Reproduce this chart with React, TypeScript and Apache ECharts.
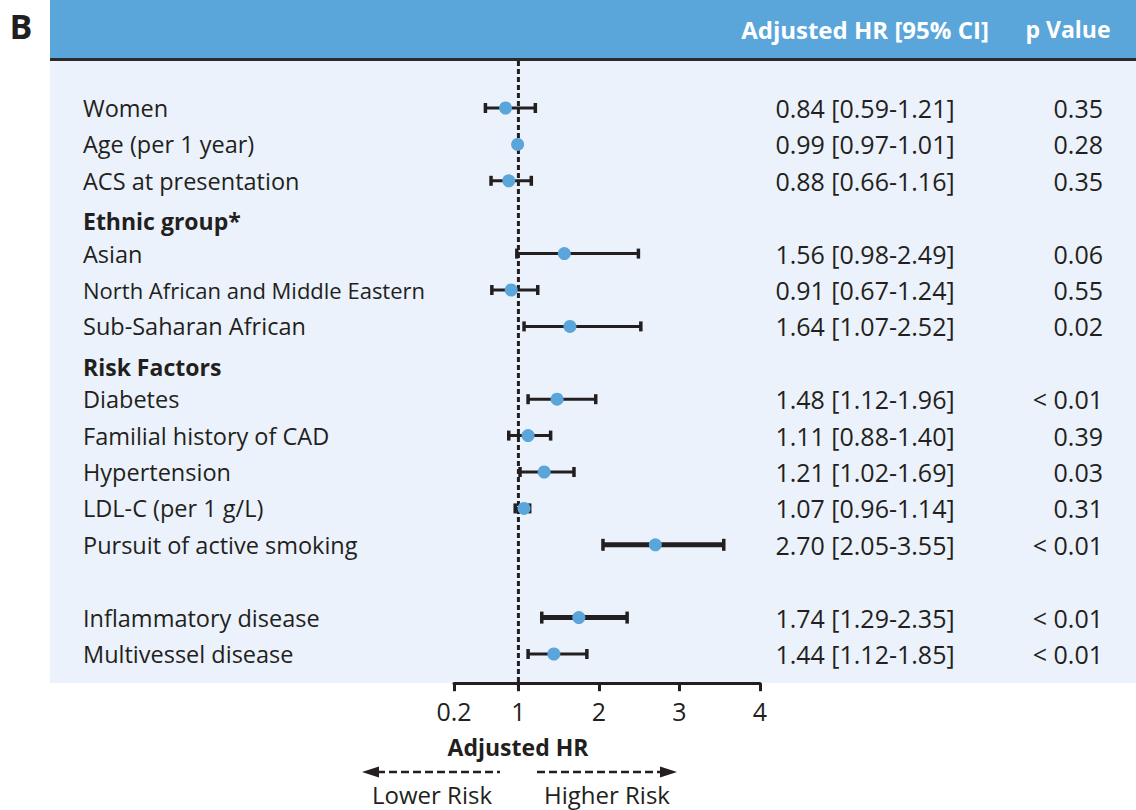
import React, { useEffect, useRef } from 'react';
import * as echarts from 'echarts';

const rowLabels = [
  'Women',
  'Age (per 1 year)',
  'ACS at presentation',
  'Ethnic group*',
  'Asian',
  'North African and Middle Eastern',
  'Sub-Saharan African',
  'Risk Factors',
  'Diabetes',
  'Familial history of CAD',
  'Hypertension',
  'LDL-C (per 1 g/L)',
  'Pursuit of active smoking',
  '',
  'Inflammatory disease',
  'Multivessel disease',
];
const headerRows = ['Ethnic group*', 'Risk Factors'];
const hrPoint = [0.84, 0.99, 0.88, null, 1.57, 0.91, 1.64, null, 1.48, 1.12, 1.32, 1.07, 2.7, null, 1.75, 1.44];
const ciLow = [0.59, 0.97, 0.66, null, 0.98, 0.67, 1.07, null, 1.12, 0.88, 1.02, 0.96, 2.05, null, 1.29, 1.12];
const ciHigh = [1.21, 1.01, 1.16, null, 2.49, 1.24, 2.52, null, 1.96, 1.4, 1.69, 1.14, 3.55, null, 2.35, 1.85];
const hrText = [
  '0.84 [0.59-1.21]',
  '0.99 [0.97-1.01]',
  '0.88 [0.66-1.16]',
  '',
  '1.56 [0.98-2.49]',
  '0.91 [0.67-1.24]',
  '1.64 [1.07-2.52]',
  '',
  '1.48 [1.12-1.96]',
  '1.11 [0.88-1.40]',
  '1.21 [1.02-1.69]',
  '1.07 [0.96-1.14]',
  '2.70 [2.05-3.55]',
  '',
  '1.74 [1.29-2.35]',
  '1.44 [1.12-1.85]',
];
const pText = ['0.35', '0.28', '0.35', '', '0.06', '0.55', '0.02', '', '< 0.01', '0.39', '0.03', '0.31', '< 0.01', '', '< 0.01', '< 0.01'];
const xTicks = [0.2, 1, 2, 3, 4];
const xTickLabels = ['0.2', '1', '2', '3', '4'];
const thickRows = ['Pursuit of active smoking', 'Inflammatory disease'];

const FONT = '"Open Sans", "Noto Sans", sans-serif';
const INK = '#231f20';
const BLUE = '#5aa6da';
const PANEL = '#ebf2fb';

export default function App() {
  const ref = useRef<HTMLDivElement>(null);

  useEffect(() => {
    if (!ref.current) return;
    const chart = echarts.init(ref.current, undefined, { renderer: 'svg' });

    const seriesData: any[] = [];
    rowLabels.forEach((name, i) => {
      if (hrPoint[i] == null) return;
      seriesData.push([i, ciLow[i], ciHigh[i], hrPoint[i], thickRows.includes(name) ? 1 : 0]);
    });

    const staticGraphics: any[] = [
      { type: 'rect', z: -10, shape: { x: 50, y: 0, width: 1086, height: 59 }, style: { fill: BLUE } },
      { type: 'rect', z: -10, shape: { x: 50, y: 61, width: 1086, height: 622 }, style: { fill: PANEL } },
      { type: 'line', z: -9, shape: { x1: 50, y1: 59.5, x2: 1136, y2: 59.5 }, style: { stroke: '#2b2b2b', lineWidth: 3 } },
      {
        type: 'text', x: 21, y: 26,
        style: { text: 'B', font: `bold 34px ${FONT}`, fill: INK, textAlign: 'center', textVerticalAlign: 'middle' },
      },
      {
        type: 'text', x: 865, y: 29,
        style: { text: 'Adjusted HR [95% CI]', font: `bold 24px ${FONT}`, fill: '#ffffff', textAlign: 'center', textVerticalAlign: 'middle' },
      },
      {
        type: 'text', x: 1068, y: 29,
        style: { text: 'p Value', font: `bold 23px ${FONT}`, fill: '#ffffff', textAlign: 'center', textVerticalAlign: 'middle' },
      },
      {
        type: 'text', x: 518, y: 747,
        style: { text: 'Adjusted HR', font: `bold 23px ${FONT}`, fill: INK, textAlign: 'center', textVerticalAlign: 'middle' },
      },
      { type: 'line', shape: { x1: 377, y1: 772, x2: 500, y2: 772 }, style: { stroke: INK, lineWidth: 2.5, lineDash: [8, 4] } },
      { type: 'polygon', shape: { points: [[362, 772], [379, 766.5], [379, 777.5]] }, style: { fill: INK } },
      { type: 'line', shape: { x1: 537, y1: 772, x2: 661, y2: 772 }, style: { stroke: INK, lineWidth: 2.5, lineDash: [8, 4] } },
      { type: 'polygon', shape: { points: [[677, 772], [660, 766.5], [660, 777.5]] }, style: { fill: INK } },
      {
        type: 'text', x: 432, y: 794,
        style: { text: 'Lower Risk', font: `24px ${FONT}`, fill: INK, textAlign: 'center', textVerticalAlign: 'middle' },
      },
      {
        type: 'text', x: 607, y: 794,
        style: { text: 'Higher Risk', font: `24px ${FONT}`, fill: INK, textAlign: 'center', textVerticalAlign: 'middle' },
      },
    ];

    const catAxisBase = {
      type: 'category' as const,
      gridIndex: 0,
      inverse: true,
      axisLine: { show: false },
      axisTick: { show: false },
      splitLine: { show: false },
    };

    chart.setOption({
      animation: false,
      grid: { left: 454, right: 376, top: 89.8, height: 582.4, containLabel: false },
      xAxis: {
        type: 'value',
        min: 0.2,
        max: 4,
        position: 'bottom',
        offset: 11,
        splitLine: { show: false },
        axisLine: { show: true, lineStyle: { color: INK, width: 3 } },
        axisTick: { show: true, customValues: xTicks, length: 8, lineStyle: { color: INK, width: 3 } },
        axisLabel: {
          customValues: xTicks,
          formatter: (v: number) => xTickLabels[xTicks.indexOf(v)] ?? String(v),
          fontFamily: FONT,
          fontSize: 25,
          color: INK,
          margin: 15,
        },
      },
      yAxis: [
        {
          ...catAxisBase,
          position: 'left',
          data: rowLabels,
          axisLabel: {
            align: 'left',
            margin: 371,
            formatter: (v: string) =>
              headerRows.includes(v) ? `{h|${v}}` : v.length > 30 ? `{c|${v}}` : `{n|${v}}`,
            rich: {
              n: { fontFamily: FONT, fontSize: 23.5, color: INK },
              c: { fontFamily: FONT, fontSize: 22, color: INK },
              h: { fontFamily: FONT, fontSize: 23, fontWeight: 'bold', color: INK, padding: [8, 0, 0, 0] },
            },
          },
        },
        {
          ...catAxisBase,
          position: 'right',
          data: hrText,
          axisLabel: { align: 'center', margin: 105, fontFamily: FONT, fontSize: 25, color: INK },
        },
        {
          ...catAxisBase,
          position: 'right',
          data: pText,
          axisLabel: { align: 'right', margin: 343, fontFamily: FONT, fontSize: 25, color: INK },
        },
      ],
      series: [
        {
          type: 'custom',
          xAxisIndex: 0,
          yAxisIndex: 0,
          encode: { x: [1, 2, 3], y: 0 },
          data: seriesData,
          renderItem: (_params: any, api: any) => {
            const yi = api.value(0);
            const lo = api.coord([api.value(1), yi]);
            const hi = api.coord([api.value(2), yi]);
            const pt = api.coord([api.value(3), yi]);
            const thick = api.value(4) === 1;
            const lw = thick ? 5 : 3;
            const cap = thick ? 12 : 10;
            return {
              type: 'group',
              children: [
                { type: 'line', shape: { x1: lo[0], y1: lo[1], x2: hi[0], y2: hi[1] }, style: { stroke: INK, lineWidth: lw } },
                { type: 'line', shape: { x1: lo[0], y1: lo[1] - cap / 2, x2: lo[0], y2: lo[1] + cap / 2 }, style: { stroke: INK, lineWidth: 3.5 } },
                { type: 'line', shape: { x1: hi[0], y1: hi[1] - cap / 2, x2: hi[0], y2: hi[1] + cap / 2 }, style: { stroke: INK, lineWidth: 3.5 } },
                { type: 'circle', z2: 10, shape: { cx: pt[0], cy: pt[1], r: 6.5 }, style: { fill: BLUE } },
              ],
            };
          },
          z: 5,
        },
      ],
      graphic: staticGraphics,
    });

    const refX = chart.convertToPixel({ xAxisIndex: 0 }, 1) as number;
    chart.setOption({
      graphic: [
        ...staticGraphics,
        {
          type: 'line',
          z: 3,
          shape: { x1: refX, y1: 61, x2: refX, y2: 691 },
          style: { stroke: INK, lineWidth: 3, lineDash: [5, 3] },
        },
      ],
    });

    return () => chart.dispose();
  }, []);

  return (
    <div
      ref={ref}
      style={{ position: 'fixed', left: 0, top: 0, width: 1136, height: 810, background: '#ffffff' }}
    />
  );
}
